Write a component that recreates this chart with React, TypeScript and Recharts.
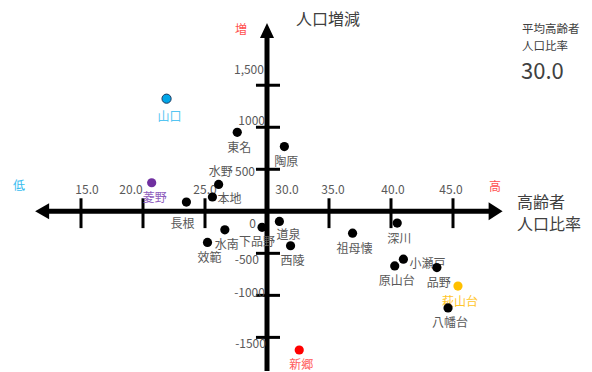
import React from 'react';
import { ScatterChart, Scatter, XAxis, YAxis, ReferenceLine } from 'recharts';

// ---- data ----
const districts = ['山口', '東名', '陶原', '水野', '本地', '長根', '菱野', '水南', '效範', '下品野', '道泉', '西陵', '新郷', '祖母懐', '深川', '小瀬戸', '原山台', '品野', '萩山台', '八幡台'];
const elderlyRate = [21.9, 27.6, 31.4, 26.1, 25.6, 23.5, 20.7, 26.6, 25.2, 29.6, 31.0, 31.9, 32.6, 36.9, 40.5, 41.0, 40.3, 43.7, 45.4, 44.6];
const popChange = [1340, 940, 770, 320, 170, 110, 340, -220, -370, -190, -120, -410, -1650, -260, -140, -570, -650, -670, -890, -1150];
const xTicks = [15, 20, 25, 30, 35, 40, 45];
const xTickLabels = ['15.0', '20.0', '25.0', '30.0', '35.0', '40.0', '45.0'];
const yTicks = [-1500, -1000, -500, 0, 500, 1000, 1500];
const yTickLabels = ['-1500', '-1000', '-500', '0', '500', '1000', '1,500'];
const averageRate = 30.0;
const averageLabel = '30.0';

const points = districts.map((name, i) => ({ name, x: elderlyRate[i], y: popChange[i] }));

// ---- styles / layout ----
const W = 592;
const H = 372;
const FONT = '"Noto Sans CJK JP", "Noto Sans", sans-serif';
const GRAY = '#595959';
const X_DOMAIN: [number, number] = [10, 50];
const Y_DOMAIN: [number, number] = [-1900, 2300];
const H_AXIS_EXTENT: [number, number] = [11.3, 49.0];
const V_AXIS_EXTENT: [number, number] = [-1900, 2240];
const X_TICK_SPAN: [number, number] = [-200, 155];
const Y_TICK_SPAN: [number, number] = [29.11, 31.05];

const pointStyle: Record<string, { fill: string; stroke?: string; label: string }> = {
  山口: { fill: '#00a6e8', stroke: '#1f3a5f', label: '#55c5f2' },
  菱野: { fill: '#7030a0', label: '#8e5cbc' },
  新郷: { fill: '#ff0000', label: '#ff5c5c' },
  萩山台: { fill: '#ffc000', label: '#ffc52a' },
};
const labelOffset: Record<string, [number, number]> = {
  山口: [3, 17],
  水野: [2, -14],
  本地: [17, 0],
  長根: [-4, 20],
  菱野: [3, 14],
  下品野: [-5, 13],
  道泉: [9, 12],
  小瀬戸: [24, 3],
};
const xLabelDx: Record<number, number> = { 15: 6, 20: -12, 25: 0, 30: 20, 35: 4, 40: 2, 45: -2 };
const yLabelOff: Record<number, [number, number]> = {
  1500: [8, -17],
  1000: [9, -8],
  500: [-1, 1],
  0: [0, 11],
  [-500]: [3, 5],
  [-1000]: [9, -4],
  [-1500]: [10, 5],
};

const renderPoint = (props: any) => {
  const { cx, cy, payload } = props;
  if (cx == null || cy == null) return <g />;
  const st = pointStyle[payload.name];
  const off = labelOffset[payload.name] || [2, 14];
  return (
    <g>
      <circle cx={cx} cy={cy} r={4.6} fill={st ? st.fill : '#000'} stroke={st && st.stroke ? st.stroke : 'none'} strokeWidth={1} />
      <text x={cx + off[0]} y={cy + off[1]} textAnchor="middle" dominantBaseline="central" fontSize={12} fontFamily={FONT} fill={st ? st.label : GRAY}>
        {payload.name}
      </text>
    </g>
  );
};

const HAxisShape = (p: any) => {
  const y = p.y1;
  const l = Math.min(p.x1, p.x2);
  const r = Math.max(p.x1, p.x2);
  return (
    <g>
      <line x1={l + 10} x2={r - 10} y1={y} y2={y} stroke="#000" strokeWidth={5} />
      <polygon points={`${l},${y} ${l + 14},${y - 8} ${l + 14},${y + 8}`} fill="#000" />
      <polygon points={`${r},${y} ${r - 14},${y - 9} ${r - 14},${y + 9}`} fill="#000" />
    </g>
  );
};

const VAxisShape = (p: any) => {
  const x = p.x1;
  const t = Math.min(p.y1, p.y2);
  const b = Math.max(p.y1, p.y2);
  return (
    <g>
      <line x1={x} x2={x} y1={t + 10} y2={b} stroke="#000" strokeWidth={5} />
      <polygon points={`${x},${t} ${x - 7},${t + 15} ${x + 7},${t + 15}`} fill="#000" />
    </g>
  );
};

const makeXTick = (v: number, label: string) => (p: any) => {
  const x = p.x1;
  const t = Math.min(p.y1, p.y2);
  const b = Math.max(p.y1, p.y2);
  return (
    <g>
      {v !== averageRate && <line x1={x} x2={x} y1={t} y2={b} stroke="#000" strokeWidth={3} />}
      <text x={x + (xLabelDx[v] || 0)} y={t - 10} textAnchor="middle" dominantBaseline="central" fontSize={12} fontFamily={FONT} fill={GRAY}>
        {label}
      </text>
    </g>
  );
};

const makeYTick = (v: number, label: string) => (p: any) => {
  const l = Math.min(p.x1, p.x2);
  const r = Math.max(p.x1, p.x2);
  const y = p.y1;
  const off = yLabelOff[v] || [0, 0];
  return (
    <g>
      {v !== 0 && <line x1={l} x2={r} y1={y} y2={y} stroke="#000" strokeWidth={3} />}
      <text x={l + off[0]} y={y + off[1]} textAnchor="end" dominantBaseline="central" fontSize={12} fontFamily={FONT} fill={GRAY}>
        {label}
      </text>
    </g>
  );
};

const overlay = (text: string, left: number, cy: number, size: number, color: string) => (
  <div
    key={text + left + cy}
    style={{
      position: 'absolute',
      left,
      top: cy - size / 2,
      fontSize: size,
      lineHeight: `${size}px`,
      height: size,
      fontFamily: FONT,
      color,
      whiteSpace: 'nowrap',
    }}
  >
    {text}
  </div>
);

export default function App() {
  return (
    <div style={{ position: 'absolute', left: 0, top: 0, width: W, height: H, background: '#fff' }}>
      <ScatterChart width={W} height={H} margin={{ top: 18, right: 77, bottom: 1, left: 19 }}>
        <XAxis type="number" dataKey="x" domain={X_DOMAIN} hide allowDataOverflow />
        <YAxis type="number" dataKey="y" domain={Y_DOMAIN} hide allowDataOverflow />
        <ReferenceLine
          ifOverflow="visible"
          segment={[{ x: H_AXIS_EXTENT[0], y: 0 }, { x: H_AXIS_EXTENT[1], y: 0 }]}
          shape={HAxisShape}
        />
        <ReferenceLine
          ifOverflow="visible"
          segment={[{ x: averageRate, y: V_AXIS_EXTENT[0] }, { x: averageRate, y: V_AXIS_EXTENT[1] }]}
          shape={VAxisShape}
        />
        {xTicks.map((v, i) => (
          <ReferenceLine
            key={'xt' + v}
            ifOverflow="visible"
            segment={[{ x: v, y: X_TICK_SPAN[0] }, { x: v, y: X_TICK_SPAN[1] }]}
            shape={makeXTick(v, xTickLabels[i])}
          />
        ))}
        {yTicks.map((v, i) => (
          <ReferenceLine
            key={'yt' + v}
            ifOverflow="visible"
            segment={[{ x: Y_TICK_SPAN[0], y: v }, { x: Y_TICK_SPAN[1], y: v }]}
            shape={makeYTick(v, yTickLabels[i])}
          />
        ))}
        <Scatter data={points} dataKey="y" shape={renderPoint} isAnimationActive={false} />
      </ScatterChart>
      {overlay('人口増減', 296, 18, 16, '#404040')}
      {overlay('増', 235, 29, 12, '#ff5050')}
      {overlay('低', 13, 185, 12, '#38bdf0')}
      {overlay('高', 489, 186, 12, '#ff5050')}
      {overlay('高齢者', 517, 201, 16, '#404040')}
      {overlay('人口比率', 517, 223, 16, '#404040')}
      {overlay('平均高齢者', 522, 29, 11.5, '#404040')}
      {overlay('人口比率', 522, 46, 11.5, '#404040')}
      {overlay(averageLabel, 521, 69, 22, '#404040')}
    </div>
  );
}
